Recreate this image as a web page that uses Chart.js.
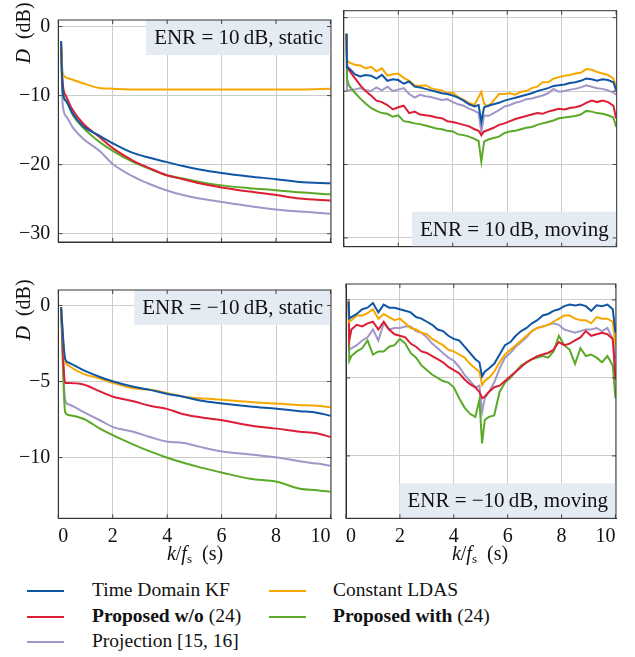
<!DOCTYPE html>
<html>
<head>
<meta charset="utf-8">
<script src="https://cdn.jsdelivr.net/npm/chart.js@4.4.0/dist/chart.umd.min.js"></script>
<style>
  body { margin: 0; background: #fff; width: 635px; height: 657px; position: relative; overflow: hidden;
         font-family: "Liberation Serif", "Times New Roman", serif; color: #111; }
  canvas { position: absolute; }
  .ylab { position: absolute; font-size: 20px; white-space: nowrap; transform: translate(-50%, -50%) rotate(-90deg); }
  .xlab { position: absolute; font-size: 20px; white-space: nowrap; transform: translate(-50%, -50%); }
  .xlab sub { font-size: 13px; font-style: normal; vertical-align: -3px; }
  .lg { position: absolute; width: 37px; height: 0; border-top: 2px solid; }
  .lt { position: absolute; font-size: 19.5px; line-height: 20px; white-space: nowrap; }
</style>
</head>
<body>
<canvas id="tl" width="340" height="262" style="left:0;top:0"></canvas>
<canvas id="tr" width="295" height="262" style="left:340px;top:0"></canvas>
<canvas id="bl" width="340" height="285" style="left:0;top:270px"></canvas>
<canvas id="br" width="295" height="285" style="left:340px;top:270px"></canvas>

<div class="ylab" style="left:23px;top:33px"><i>D</i>&nbsp;&nbsp;(dB)</div>
<div class="ylab" style="left:23px;top:310px"><i>D</i>&nbsp;&nbsp;(dB)</div>
<div class="xlab" style="left:195px;top:554px"><i>k</i>/<i>f</i><sub>s</sub>&nbsp;&nbsp;(s)</div>
<div class="xlab" style="left:480px;top:554px"><i>k</i>/<i>f</i><sub>s</sub>&nbsp;&nbsp;(s)</div>

<div class="lg" style="left:27px;top:590px;border-color:#1056a5"></div>
<div class="lt" style="left:92px;top:580px">Time Domain KF</div>
<div class="lg" style="left:27px;top:616px;border-color:#dc1e34"></div>
<div class="lt" style="left:92px;top:606px"><b>Proposed w/o</b> (24)</div>
<div class="lg" style="left:27px;top:641px;border-color:#a096c8"></div>
<div class="lt" style="left:92px;top:631px">Projection [15, 16]</div>
<div class="lg" style="left:269px;top:590px;border-color:#f7a800"></div>
<div class="lt" style="left:333px;top:580px">Constant LDAS</div>
<div class="lg" style="left:269px;top:616px;border-color:#5aaa28"></div>
<div class="lt" style="left:333px;top:606px"><b>Proposed with</b> (24)</div>

<script>
// series names and colours
const names = ['Time Domain KF', 'Constant LDAS', 'Proposed w/o (24)', 'Proposed with (24)', 'Projection [15, 16]'];
const colors = ['#1056a5', '#f7a800', '#dc1e34', '#5aaa28', '#a096c8'];

const xTicks = [0, 2, 4, 6, 8, 10];
const yTicksTop = [0, -10, -20, -30];
const yTicksBottom = [0, -5, -10];

// ENR = 10 dB, static
const tStatic10 = [0.1, 0.16, 0.29, 0.53, 0.9, 1.51, 2.0, 2.74, 3.35, 3.96, 4.58, 5.19, 6.0, 7.02, 8.0, 8.86, 10.0];
const s10Kf    = [-2.1, -9.2, -10.8, -12.6, -14.4, -15.8, -16.9, -18.3, -19.0, -19.6, -20.2, -20.7, -21.2, -21.7, -22.1, -22.5, -22.7];
const s10Ldas  = [-2.1, -6.7, -7.4, -7.7, -8.2, -8.9, -9.0, -9.1, -9.1, -9.1, -9.1, -9.1, -9.1, -9.1, -9.1, -9.1, -9.0];
const s10Wo    = [-2.1, -8.1, -10.1, -12.1, -14.0, -16.0, -17.6, -19.4, -20.5, -21.5, -22.1, -22.7, -23.3, -23.9, -24.4, -24.9, -25.2];
const s10With  = [-2.1, -9.4, -10.8, -12.8, -14.6, -16.7, -18.0, -19.6, -20.6, -21.5, -22.0, -22.5, -23.0, -23.4, -23.7, -24.0, -24.3];
const s10Proj  = [-2.1, -11.2, -13.0, -14.6, -16.2, -18.0, -19.9, -21.7, -22.8, -23.7, -24.4, -24.9, -25.4, -26.0, -26.5, -26.8, -27.1];

// ENR = -10 dB, static
const tStaticM10 = [0.1, 0.25, 0.37, 0.92, 1.53, 2.02, 2.76, 3.37, 3.98, 4.6, 5.21, 6.03, 7.05, 8.03, 8.88, 9.5, 10.0];
const sm10Kf   = [-0.1, -3.5, -3.75, -4.25, -4.7, -5.0, -5.35, -5.55, -5.8, -6.0, -6.25, -6.45, -6.65, -6.8, -6.95, -7.05, -7.25];
const sm10Ldas = [-0.1, -3.6, -3.95, -4.5, -4.8, -5.1, -5.45, -5.55, -5.75, -6.0, -6.1, -6.2, -6.35, -6.45, -6.55, -6.6, -6.7];
const sm10Wo   = [-0.1, -5.1, -5.1, -5.2, -5.65, -6.0, -6.3, -6.6, -6.8, -7.15, -7.35, -7.55, -7.9, -8.1, -8.3, -8.4, -8.65];
const sm10With = [-0.1, -7.0, -7.2, -7.45, -8.1, -8.55, -9.15, -9.6, -10.0, -10.35, -10.65, -11.0, -11.4, -11.6, -12.05, -12.15, -12.25];
const sm10Proj = [-0.1, -6.2, -6.5, -7.0, -7.55, -8.0, -8.3, -8.65, -8.95, -9.05, -9.3, -9.6, -9.8, -10.0, -10.25, -10.4, -10.55];

// moving source, both ENRs
const tMoving = [0.1, 0.12, 0.2, 0.4, 0.6, 0.8, 1.0, 1.2, 1.4, 1.6,
                 1.8, 2.0, 2.2, 2.4, 2.6, 2.8, 3.0, 3.2, 3.4, 3.6,
                 3.8, 4.0, 4.2, 4.4, 4.6, 4.8, 4.95, 5.05, 5.15, 5.3,
                 5.5, 5.7, 5.9, 6.1, 6.3, 6.5, 6.7, 6.9, 7.1, 7.3,
                 7.5, 7.7, 7.9, 8.1, 8.3, 8.5, 8.7, 8.9, 9.1, 9.3,
                 9.5, 9.7, 9.9, 10.0];

const m10Kf = [-2.2, -6.8, -6.9, -7.7, -8.0, -7.8, -7.9, -8.3, -7.8, -8.6,
               -8.4, -8.5, -9.0, -8.7, -9.4, -9.5, -9.7, -9.9, -10.1, -10.3,
               -10.4, -10.6, -10.9, -11.3, -11.8, -12.1, -11.9, -14.2, -12.2, -12.0,
               -11.8, -11.6, -11.3, -11.1, -10.9, -10.7, -10.5, -10.3, -10.0, -9.8,
               -9.6, -9.3, -9.2, -9.1, -8.9, -8.8, -8.6, -8.3, -8.4, -8.6,
               -8.4, -8.5, -8.8, -9.9];
const m10Ldas = [-2.2, -5.8, -6.1, -6.4, -6.5, -6.9, -6.7, -7.3, -6.9, -7.9,
                 -7.7, -7.6, -8.2, -8.6, -9.2, -9.3, -9.2, -9.6, -9.8, -9.9,
                 -10.3, -10.2, -10.8, -11.2, -11.6, -11.9, -10.8, -10.1, -11.7, -12.1,
                 -11.3, -10.4, -10.4, -10.3, -10.5, -10.1, -10.0, -9.6, -9.4, -8.8,
                 -8.8, -8.3, -8.1, -7.9, -7.8, -7.6, -7.5, -7.0, -7.1, -7.4,
                 -7.6, -7.8, -8.3, -9.4];
const m10Wo = [-2.2, -6.5, -7.2, -8.2, -9.2, -10.0, -10.6, -11.3, -11.5, -11.9,
               -12.5, -12.2, -12.0, -13.0, -12.8, -13.2, -13.3, -13.4, -13.6, -13.7,
               -14.1, -14.2, -14.4, -14.6, -14.8, -15.2, -15.4, -16.0, -15.5, -15.3,
               -15.0, -14.6, -14.4, -14.1, -13.8, -13.6, -13.4, -13.2, -13.0, -13.1,
               -12.8, -12.6, -12.4, -12.5, -12.3, -12.2, -12.0, -11.6, -11.3, -11.5,
               -11.3, -11.5, -12.0, -13.7];
const m10With = [-2.2, -8.4, -9.3, -10.2, -11.0, -11.7, -12.3, -12.7, -13.0, -13.1,
                 -13.5, -13.3, -14.1, -14.2, -14.4, -14.5, -14.7, -14.9, -15.1, -15.2,
                 -15.4, -15.5, -15.9, -16.0, -16.2, -16.5, -16.8, -19.6, -16.9, -16.6,
                 -16.4, -16.2, -15.7, -15.5, -15.4, -15.2, -15.0, -14.9, -14.6, -14.4,
                 -14.2, -14.0, -13.7, -13.6, -13.5, -13.4, -13.2, -12.7, -12.8, -13.0,
                 -13.1, -13.3, -13.6, -14.9];
const m10Proj = [-2.2, -9.8, -9.9, -9.8, -9.6, -9.9, -10.0, -9.5, -9.9, -9.4,
                 -10.0, -9.8, -9.6, -10.4, -10.9, -10.5, -10.7, -10.8, -11.0, -11.2,
                 -11.1, -11.5, -11.8, -12.0, -12.4, -12.7, -13.0, -15.6, -13.3, -13.4,
                 -13.0, -12.6, -12.1, -11.9, -11.6, -11.4, -11.1, -11.0, -10.8, -10.6,
                 -10.3, -9.7, -10.1, -10.0, -9.8, -9.7, -9.5, -9.2, -9.4, -9.6,
                 -9.7, -9.9, -10.2, -10.5];

const mm10Kf = [-0.1, -1.2, -1.1, -0.9, -0.6, -0.5, -0.2, -0.8, -0.3, -0.5,
                -0.5, -0.6, -0.7, -0.8, -1.1, -1.2, -1.4, -1.6, -1.9, -2.0,
                -2.3, -2.5, -2.6, -3.0, -3.4, -3.8, -4.0, -4.9, -4.6, -4.4,
                -4.1, -3.5, -2.9, -2.7, -2.3, -2.0, -1.8, -1.5, -1.3, -1.0,
                -0.9, -0.7, -0.6, -0.4, -0.3, -0.35, -0.3, -0.4, -0.7, -0.35,
                -0.4, -0.3, -0.6, -2.1];
const mm10Ldas = [-0.1, -1.4, -1.3, -1.0, -1.0, -0.85, -0.6, -1.2, -0.9, -1.1,
                  -1.3, -1.2, -1.5, -1.8, -1.9, -2.1, -2.2, -2.5, -2.7, -2.9,
                  -3.2, -3.3, -3.5, -3.7, -4.1, -4.4, -4.6, -5.45, -5.2, -5.0,
                  -4.6, -4.0, -3.5, -3.2, -2.9, -2.6, -2.3, -2.0, -1.8, -1.7,
                  -1.6, -1.4, -1.2, -1.0, -1.0, -1.2, -1.3, -1.3, -1.5, -1.1,
                  -1.2, -1.2, -1.4, -2.9];
const mm10Wo = [-0.1, -2.6, -1.9, -1.6, -1.7, -1.5, -1.4, -1.9, -1.4, -1.9,
                -2.2, -2.3, -2.4, -2.8, -3.0, -3.3, -3.4, -3.6, -3.8, -4.0,
                -4.3, -4.5, -4.7, -5.1, -5.4, -5.6, -5.9, -6.3, -6.2, -5.9,
                -5.6, -5.5, -5.2, -4.9, -4.6, -4.3, -4.0, -3.8, -3.6, -3.5,
                -3.4, -3.2, -2.7, -2.9, -2.8, -2.6, -2.4, -2.0, -2.3, -2.2,
                -2.1, -2.2, -2.5, -5.1];
const mm10With = [-0.1, -3.9, -3.6, -3.3, -3.1, -2.6, -3.5, -3.3, -3.3, -3.0,
                  -2.9, -2.5, -2.8, -3.4, -3.7, -4.2, -4.5, -4.8, -5.0, -5.2,
                  -5.3, -5.6, -6.3, -6.9, -7.3, -7.5, -6.4, -9.2, -7.7, -7.5,
                  -7.4, -5.9, -5.3, -5.0, -4.6, -4.2, -4.0, -3.8, -3.7, -3.6,
                  -3.7, -3.3, -2.3, -2.9, -3.2, -4.1, -3.1, -3.6, -3.5, -3.7,
                  -4.0, -3.6, -4.2, -6.3];
const mm10Proj = [-0.1, -3.2, -3.1, -2.9, -2.6, -2.4, -1.9, -2.6, -1.5, -1.9,
                  -1.8, -1.8, -1.7, -1.7, -2.0, -2.1, -2.4, -2.8, -3.1, -3.4,
                  -3.7, -3.9, -4.3, -4.8, -5.2, -5.6, -5.5, -7.2, -6.3, -5.9,
                  -5.3, -4.4, -3.7, -3.4, -3.0, -2.7, -2.4, -2.0, -1.8, -1.7,
                  -1.6, -1.5, -1.6, -1.9, -2.0, -2.1, -2.0, -1.9, -1.9, -1.8,
                  -2.0, -1.8, -2.5, -3.8];

const serif = '"Liberation Serif", "Times New Roman", serif';

// grey box with the ENR label, frame and short inner tick marks
const boxPlugin = {
  id: 'enrBox',
  afterDatasetsDraw(chart, args, o) {
    const { ctx, chartArea: a } = chart;
    ctx.save();
    ctx.font = '21px ' + serif;
    const w = ctx.measureText(o.text).width + 16;
    const h = 35;
    const x = a.right - w;
    const y = o.corner === 'top' ? a.top : a.bottom - h;
    ctx.fillStyle = '#e4ebf3';
    ctx.fillRect(x, y, w, h);
    ctx.fillStyle = '#111';
    ctx.textBaseline = 'middle';
    ctx.fillText(o.text, x + 8, y + h / 2 + 1);
    ctx.restore();
  },
  afterDraw(chart) {
    const { ctx, chartArea: a, scales } = chart;
    ctx.save();
    ctx.strokeStyle = '#444';
    ctx.lineWidth = 1;
    ctx.beginPath();
    scales.x.ticks.forEach(tk => {
      const px = scales.x.getPixelForValue(tk.value);
      ctx.moveTo(px, a.bottom); ctx.lineTo(px, a.bottom - 4);
      ctx.moveTo(px, a.top); ctx.lineTo(px, a.top + 4);
    });
    scales.y.ticks.forEach(tk => {
      const py = scales.y.getPixelForValue(tk.value);
      ctx.moveTo(a.left, py); ctx.lineTo(a.left + 4, py);
      ctx.moveTo(a.right, py); ctx.lineTo(a.right - 4, py);
    });
    ctx.stroke();
    ctx.strokeStyle = '#333';
    ctx.strokeRect(a.left, a.top, a.right - a.left, a.bottom - a.top);
    ctx.restore();
  }
};

const minus = v => (v < 0 ? '\u2212' + Math.abs(v) : String(v));

function makePanel(id, canvasBox, area, t, series, yMin, yMax, yTicks, showX, showY, label, corner, smooth) {
  const [cl, ct, cw, ch] = canvasBox;
  const [al, at, ar, ab] = area;
  new Chart(document.getElementById(id), {
    type: 'line',
    data: {
      datasets: series.map((s, i) => ({
        label: names[i],
        data: t.map((x, k) => ({ x: x, y: s[k] })),
        borderColor: colors[i],
        borderWidth: 2,
        pointRadius: 0,
        fill: false,
        tension: smooth ? 0.4 : 0,
        cubicInterpolationMode: smooth ? 'monotone' : 'default'
      }))
    },
    options: {
      responsive: false,
      animation: false,
      events: [],
      layout: { padding: { left: 0, top: at - ct, right: cl + cw - ar, bottom: 0 } },
      plugins: { legend: { display: false }, tooltip: { enabled: false }, enrBox: { text: label, corner: corner } },
      scales: {
        x: {
          type: 'linear', min: 0, max: 10.02,
          afterBuildTicks: sc => { sc.ticks = xTicks.map(v => ({ value: v })); },
          afterFit: sc => { sc.height = ch - (ab - ct); },
          grid: { color: '#cccccc', drawTicks: false },
          border: { color: '#333' },
          ticks: { display: showX, align: 'inner', padding: 6, color: '#111', font: { family: serif, size: 20 } }
        },
        y: {
          type: 'linear', min: yMin, max: yMax,
          afterBuildTicks: sc => { sc.ticks = yTicks.map(v => ({ value: v })); },
          afterFit: sc => { sc.width = al - cl; },
          grid: { color: '#cccccc', drawTicks: false },
          border: { color: '#333' },
          ticks: { display: showY, padding: 8, color: '#111', font: { family: serif, size: 20 }, callback: minus }
        }
      }
    },
    plugins: [boxPlugin]
  });
}

makePanel('tl', [0, 0, 340, 262], [58.3, 10.7, 331, 246.7], tStatic10,
  [s10Kf, s10Ldas, s10Wo, s10With, s10Proj], -31.2, 0.95, yTicksTop, false, true,
  'ENR = 10\u2009dB, static', 'top', true);
makePanel('tr', [340, 0, 295, 262], [343.8, 10.7, 616.7, 246.7], tMoving,
  [m10Kf, m10Ldas, m10Wo, m10With, m10Proj], -31.2, 0.95, yTicksTop, false, false,
  'ENR = 10\u2009dB, moving', 'bottom', false);
makePanel('bl', [0, 270, 340, 285], [58.3, 284, 331, 518.3], tStaticM10,
  [sm10Kf, sm10Ldas, sm10Wo, sm10With, sm10Proj], -14, 1.02, yTicksBottom, true, true,
  'ENR = \u221210\u2009dB, static', 'top', true);
makePanel('br', [340, 270, 295, 285], [343.5, 284, 616, 518.3], tMoving,
  [mm10Kf, mm10Ldas, mm10Wo, mm10With, mm10Proj], -14, 1.02, yTicksBottom, true, false,
  'ENR = \u221210\u2009dB, moving', 'bottom', false);
</script>
</body>
</html>
